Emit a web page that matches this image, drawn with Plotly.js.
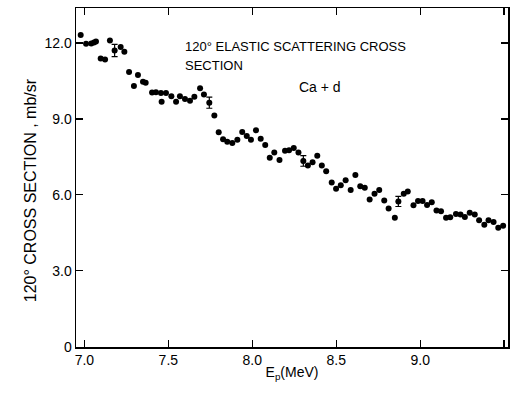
<!DOCTYPE html>
<html>
<head>
<meta charset="utf-8">
<script src="https://cdn.plot.ly/plotly-3.0.1.min.js"></script>
<style>html,body{margin:0;padding:0;background:#fff;}#chart{width:513px;height:402px;}</style>
</head>
<body>
<div id="chart"></div>
<script>
// Proton energy (MeV) and 120° elastic scattering cross section (mb/sr)
var energy = [6.978, 7.010, 7.041, 7.057, 7.069, 7.097, 7.123, 7.152, 7.180, 7.216,
  7.238, 7.266, 7.295, 7.319, 7.349, 7.365, 7.403, 7.426, 7.456, 7.460,
  7.486, 7.518, 7.546, 7.569, 7.599, 7.629, 7.655, 7.689, 7.712, 7.744,
  7.774, 7.800, 7.826, 7.851, 7.881, 7.911, 7.940, 7.967, 7.992, 8.022,
  8.050, 8.077, 8.104, 8.131, 8.162, 8.195, 8.219, 8.247, 8.275, 8.304,
  8.331, 8.359, 8.387, 8.414, 8.440, 8.473, 8.499, 8.527, 8.556, 8.586,
  8.614, 8.643, 8.670, 8.699, 8.728, 8.756, 8.786, 8.812, 8.849, 8.870,
  8.902, 8.926, 8.960, 8.987, 9.014, 9.041, 9.069, 9.097, 9.124, 9.154,
  9.179, 9.213, 9.240, 9.266, 9.295, 9.325, 9.351, 9.382, 9.407, 9.437,
  9.465, 9.494];
var crossSection = [12.31, 11.97, 11.98, 12.02, 12.06, 11.39, 11.35, 12.10, 11.70, 11.84,
  11.65, 10.85, 10.30, 10.73, 10.47, 10.43, 10.04, 10.05, 10.02, 9.68,
  10.02, 9.89, 9.68, 9.89, 9.79, 9.72, 9.87, 10.21, 9.96, 9.64,
  9.13, 8.47, 8.20, 8.10, 8.05, 8.18, 8.48, 8.32, 8.18, 8.55,
  8.22, 7.97, 7.47, 7.67, 7.38, 7.74, 7.76, 7.85, 7.67, 7.34,
  7.16, 7.29, 7.54, 7.16, 6.93, 6.49, 6.24, 6.38, 6.58, 6.19,
  6.78, 6.34, 6.28, 5.82, 6.04, 6.19, 5.78, 5.46, 5.10, 5.74,
  6.04, 6.13, 5.59, 5.76, 5.76, 5.60, 5.71, 5.38, 5.35, 5.10,
  5.11, 5.24, 5.22, 5.12, 5.29, 5.22, 5.00, 4.82, 5.00, 4.93,
  4.70, 4.78];
// Points shown with error bars
var errEnergy = [7.180, 7.744, 8.304, 8.870];
var errValue = [11.70, 9.64, 7.34, 5.74];
var errSize = [0.24, 0.22, 0.21, 0.20];

var xTickVals = [7.0, 7.5, 8.0, 8.5, 9.0, 9.5];
var xTickText = ["7.0", "7.5", "8.0", "8.5", "9.0", "9.5"];
var yTickVals = [0, 3, 6, 9, 12];
var yTickText = ["0", "3.0", "6.0", "9.0", "12.0"];

var font = "Liberation Sans, Arial, sans-serif";

var traces = [
  {x: energy, y: crossSection, type: "scatter", mode: "markers",
   marker: {color: "#000", size: 6}, hoverinfo: "x+y"},
  {x: errEnergy, y: errValue, type: "scatter", mode: "markers",
   marker: {color: "#000", size: 5},
   error_y: {type: "data", array: errSize, visible: true, color: "#000", thickness: 1.2, width: 3}}
];

var layout = {
  width: 513, height: 402,
  margin: {l: 76, r: 5, t: 8, b: 55},
  paper_bgcolor: "#fff", plot_bgcolor: "#fff",
  showlegend: false,
  font: {family: font, color: "#000", size: 14},
  xaxis: {
    range: [6.950, 9.523], tickvals: xTickVals, ticktext: xTickText,
    ticks: "inside", ticklen: 7, tickwidth: 1.3, tickcolor: "#000",
    showline: true, linecolor: "#000", linewidth: 1.5, mirror: "ticks",
    showgrid: false, zeroline: false,
    tickfont: {family: font, size: 14, color: "#000"},
    title: {text: "E<sub>p</sub>(MeV)", font: {family: font, size: 14, color: "#000"}, standoff: 0}
  },
  yaxis: {
    range: [-0.01, 13.38], tickvals: yTickVals, ticktext: yTickText,
    ticks: "inside", ticklen: 7, tickwidth: 1.3, tickcolor: "#000",
    showline: true, linecolor: "#000", linewidth: 1.5, mirror: "ticks",
    showgrid: false, zeroline: false,
    tickfont: {family: font, size: 14, color: "#000"}
  },
  annotations: [
    {xref: "paper", yref: "paper", x: -0.106, y: 0.463, xanchor: "center", yanchor: "middle",
     textangle: -90, text: "120° CROSS SECTION , mb/sr", showarrow: false,
     font: {family: font, size: 16, color: "#000"}},
    {xref: "paper", yref: "paper", x: 0.248, y: 0.885, xanchor: "left", yanchor: "middle",
     text: "120° ELASTIC SCATTERING CROSS", showarrow: false, font: {family: font, size: 13, color: "#000"}},
    {xref: "paper", yref: "paper", x: 0.248, y: 0.830, xanchor: "left", yanchor: "middle",
     text: "SECTION", showarrow: false, font: {family: font, size: 13, color: "#000"}},
    {xref: "paper", yref: "paper", x: 0.511, y: 0.768, xanchor: "left", yanchor: "middle",
     text: "Ca + d", showarrow: false, font: {family: font, size: 14, color: "#000"}}
  ]
};

Plotly.newPlot("chart", traces, layout, {displayModeBar: false, staticPlot: true});
</script>
</body>
</html>
